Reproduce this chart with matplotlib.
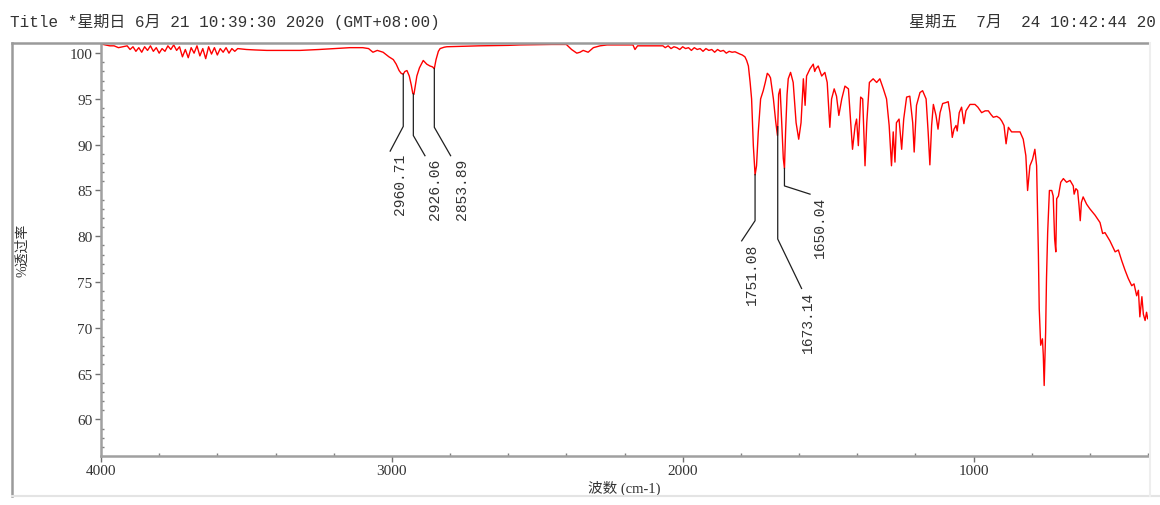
"""plot.py
FTIR transmittance spectrum, OMNIC-style print-out.
"""

import matplotlib.pyplot as plt
import numpy as np
from matplotlib.lines import Line2D

# ---- data ----------------------------------------------------------------
# 4000 - 1800 cm-1 (mostly flat baseline, C-H stretch group)
wn_high = [4000, 3985, 3970, 3955, 3940, 3925,
           3910, 3900, 3890, 3880, 3870, 3860, 3850, 3840, 3830, 3820,
           3810, 3800, 3790, 3780, 3770, 3760, 3750, 3740, 3730, 3720,
           3710, 3700, 3690, 3680, 3670, 3660, 3650, 3640, 3630, 3620,
           3610, 3600, 3590, 3580, 3570, 3560, 3550, 3540, 3530,
           3500, 3470, 3430, 3380, 3316, 3250, 3200, 3144, 3100, 3080,
           3065, 3050, 3030, 3010, 2995, 2985, 2975, 2968, 2961, 2955,
           2948, 2940, 2933, 2928, 2924, 2920, 2914, 2905, 2892, 2880,
           2869, 2860, 2854, 2848, 2840, 2834, 2820, 2811, 2700, 2600,
           2559, 2450, 2400, 2382, 2364, 2353, 2342, 2325, 2307, 2284,
           2260, 2200, 2171, 2164, 2155, 2100, 2068,
           2060, 2050, 2040, 2030, 2020, 2010, 2000, 1990, 1980, 1970,
           1960, 1950, 1940, 1930, 1920, 1910, 1900, 1890, 1880, 1870,
           1860, 1850, 1840, 1830, 1820, 1810]
t_high = [101.0, 100.9, 100.8, 100.8, 100.6, 100.7,
          100.8, 100.4, 100.7, 100.2, 100.6, 100.1, 100.7, 100.3, 100.8, 100.2,
          100.6, 100.0, 100.5, 100.2, 100.8, 100.4, 100.9, 100.3, 100.7, 99.6,
          100.4, 99.5, 100.6, 100.0, 100.8, 99.7, 100.5, 99.4, 100.7, 99.9,
          100.6, 99.8, 100.5, 100.1, 100.6, 100.0, 100.5, 100.2, 100.5,
          100.4, 100.35, 100.3, 100.3, 100.3, 100.4, 100.5, 100.6, 100.6, 100.5,
          100.1, 100.3, 100.1, 99.6, 99.3, 98.8, 98.1, 97.8, 97.7, 98.0,
          98.1, 97.5, 96.5, 95.6, 95.5, 96.3, 97.5, 98.4, 99.2, 98.8,
          98.6, 98.5, 98.3, 99.3, 100.2, 100.5, 100.65, 100.7, 100.8, 100.85,
          100.9, 100.95, 100.95, 100.4, 100.0, 100.1, 100.3, 100.1, 100.6, 100.8,
          100.9, 100.9, 100.9, 100.4, 100.8, 100.8, 100.8,
          100.6, 100.8, 100.5, 100.7, 100.6, 100.4, 100.7, 100.5, 100.6, 100.3,
          100.6, 100.4, 100.5, 100.2, 100.5, 100.3, 100.4, 100.1, 100.4, 100.2,
          100.3, 100.0, 100.2, 100.1, 100.15, 100.0]

# 1800 - 400 cm-1 (fingerprint region)
wn_fp = [1803, 1795, 1786, 1780, 1774, 1768, 1763, 1757, 1751, 1746,
         1740, 1732, 1723, 1716, 1709, 1703, 1698, 1688, 1680, 1674,
         1670, 1665, 1660, 1654, 1650, 1646, 1641, 1637, 1629, 1620,
         1610, 1601, 1593, 1585, 1579, 1574, 1562, 1551, 1546, 1542,
         1534, 1522, 1511, 1503, 1494, 1488, 1479, 1471, 1463, 1453,
         1442, 1430, 1422, 1416, 1407, 1402, 1396, 1388, 1381, 1373,
         1367, 1358, 1345, 1333, 1322, 1310, 1299, 1290, 1282, 1276,
         1270, 1265, 1256, 1247, 1240, 1230, 1219, 1209, 1204, 1196,
         1184, 1175, 1163, 1156, 1150, 1144, 1138, 1129, 1122, 1115,
         1106, 1095, 1087, 1081, 1073, 1067, 1060, 1056, 1049, 1041,
         1033, 1026, 1012, 995, 985, 972, 960, 949, 940, 932,
         920, 910, 903, 895, 888, 880, 869, 855, 840, 829,
         820, 814, 806, 797, 789, 783, 777, 774, 769, 763,
         760, 757, 752, 749, 745, 739, 731, 726, 721, 717,
         714, 708, 700, 691, 680, 668, 657, 654, 648, 642,
         637, 633, 629, 623, 611, 600, 582, 565, 556, 548,
         531, 513, 502, 490, 479, 468, 456, 448, 439, 433,
         428, 421, 416, 410, 405, 401]
t_fp = [99.9, 99.8, 99.6, 99.2, 98.6, 96.8, 95.0, 89.9, 86.7, 87.7,
        91.4, 95.0, 95.9, 96.8, 97.8, 97.6, 97.3, 95.0, 92.5, 91.0,
        95.5, 96.1, 92.8, 88.5, 87.4, 91.5, 95.5, 97.2, 97.9, 96.8,
        92.4, 90.6, 92.4, 97.2, 94.3, 97.5, 98.3, 98.8, 98.0, 98.3,
        98.6, 97.5, 97.9, 96.8, 91.9, 95.0, 96.1, 95.3, 93.2, 95.0,
        96.4, 96.1, 92.4, 89.5, 92.1, 92.8, 89.9, 95.2, 95.0, 87.7,
        92.4, 96.8, 97.2, 96.8, 97.2, 96.1, 95.0, 92.1, 87.7, 91.4,
        88.1, 92.4, 92.8, 89.5, 92.8, 95.2, 95.3, 92.4, 89.2, 94.3,
        95.7, 95.9, 95.0, 91.4, 87.8, 92.1, 94.4, 93.2, 91.7, 93.5,
        94.5, 94.6, 94.7, 93.5, 90.8, 91.7, 92.1, 91.5, 93.5, 94.1,
        92.3, 93.7, 94.4, 94.4, 94.1, 93.5, 93.7, 93.7, 93.3, 93.0,
        93.1, 92.9, 92.6, 92.1, 90.1, 91.9, 91.4, 91.4, 91.4, 90.6,
        88.8, 85.0, 87.7, 88.4, 89.5, 87.7, 78.3, 72.1, 68.1, 68.8,
        67.0, 63.7, 69.5, 75.4, 80.4, 85.0, 85.0, 84.4, 79.7, 78.3,
        84.1, 84.4, 85.9, 86.3, 85.9, 86.1, 85.5, 84.6, 85.2, 85.0,
        83.3, 81.7, 83.7, 84.3, 83.5, 83.0, 82.3, 81.5, 80.3, 80.4,
        79.5, 78.3, 78.5, 77.3, 76.3, 75.4, 74.6, 74.8, 73.5, 74.1,
        71.2, 73.4, 71.5, 70.8, 71.7, 71.0]

peak_labels = [2960.71, 2926.06, 2853.89, 1751.08, 1673.14, 1650.04]

# leader layout per peak: (T where the line bends, end dx in cm-1, end T,
#                          text dx in cm-1, text top T)
leader_layout = [(92.0, 45, 89.3, 11, 89.1),
                 (91.0, -40, 88.8, -74, 88.6),
                 (91.9, -56, 88.8, -94, 88.6),
                 (81.7, 46, 79.5, 12, 79.3),
                 (79.7, -82, 74.3, -104, 74.1),
                 (85.5, -88, 84.6, -122, 84.4)]

title_left = "Title *星期日 6月 21 10:39:30 2020 (GMT+08:00)"
# the print-out truncates the right header at the page edge
title_right = "星期五  7月  24 10:42:44 20"

# ---- figure ----------------------------------------------------------------
W, H = 1160, 506
fig = plt.figure(figsize=(W / 100, H / 100), dpi=100)
fig.patch.set_facecolor("white")

mono_cjk = ["Liberation Mono", "Noto Sans CJK SC"]
serif_cjk = ["Liberation Serif", "Noto Sans CJK SC"]

ax = fig.add_axes([101 / W, 1 - 457 / H, (1148 - 101) / W, (457 - 45) / H])

wn = np.array(wn_high + wn_fp)
pct = np.array(t_high + t_fp)
ax.plot(wn, pct, color="#ff0000", lw=1.0)

ax.set_xlim(4000, 400)
ax.set_ylim(56, 101)

ax.set_xticks([4000, 3000, 2000, 1000])
ax.set_xticks(np.arange(400, 4001, 200), minor=True)
ax.set_yticks([60, 65, 70, 75, 80, 85, 90, 95, 100])
ax.set_yticks(np.arange(57, 101, 1), minor=True)

for s in ("top", "right"):
    ax.spines[s].set_visible(False)
for s in ("left", "bottom"):
    ax.spines[s].set_color("#a0a0a0")
    ax.spines[s].set_linewidth(1.8)

ax.tick_params(which="major", direction="out", length=4, width=1,
               color="#707070", labelsize=11, labelcolor="#333333", pad=2)
ax.tick_params(which="minor", direction="in", length=2, width=1,
               color="#808080")
for lab in ax.get_xticklabels() + ax.get_yticklabels():
    lab.set_family("Liberation Serif")

ax.set_xlabel("波数 (cm-1)", family=serif_cjk, fontsize=10.5,
              color="#333333", labelpad=2)
fig.text(23 / W, 1 - 250 / H, "%透过率", family=serif_cjk, fontsize=10,
         color="#333333", rotation=90, ha="center", va="center")

# peak annotations
for p, (bend, edx, endt, tdx, ttop) in zip(peak_labels, leader_layout):
    pt = np.interp(p, wn[::-1], pct[::-1])
    ax.plot([p, p, p + edx], [pt, bend, endt], color="#202020", lw=0.9)
    ax.text(p + tdx, ttop, f"{p:.2f}", rotation=90, ha="center", va="top",
            family="Liberation Mono", fontsize=10.5, color="#333333")

# header texts
fig.text(10 / W, 1 - 22 / H, title_left, family=mono_cjk, fontsize=11.5,
         color="#333333", ha="left", va="center")
fig.text(909 / W, 1 - 22 / H, title_right, family=mono_cjk, fontsize=11.5,
         color="#333333", ha="left", va="center")

# outer frame of the print-out
fx0, fx1 = 12 / W, 1148 / W
fy0, fy1 = 1 - 497 / H, 1 - 44 / H
fig.add_artist(Line2D([fx0, fx1], [fy1, fy1], color="#9a9a9a", lw=1.8))
fig.add_artist(Line2D([fx0, fx0], [fy0, fy1], color="#9a9a9a", lw=1.8))
fig.add_artist(Line2D([fx0, 1.0], [fy0, fy0], color="#e4e4e4", lw=1.5))
fig.add_artist(Line2D([1150 / W, 1150 / W], [fy0, fy1], color="#eeeeee", lw=1.5))

fig.savefig("out.png", dpi=100)
